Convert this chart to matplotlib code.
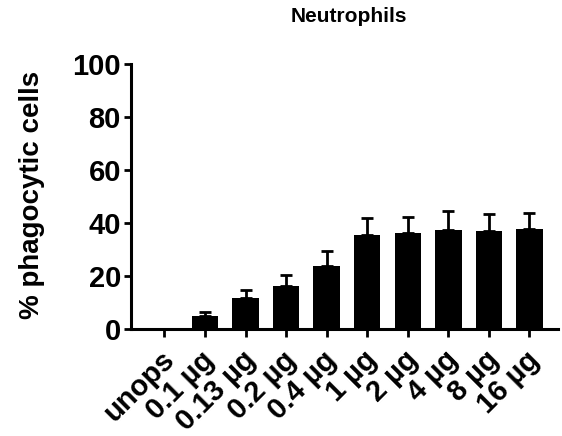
import matplotlib
matplotlib.use("Agg")
import matplotlib.pyplot as plt

categories = ["unops", "0.1 µg", "0.13 µg", "0.2 µg", "0.4 µg", "1 µg", "2 µg", "4 µg", "8 µg", "16 µg"]
means = [0, 4.7, 11.5, 16.3, 23.8, 35.4, 36.1, 37.3, 36.8, 37.6]
err_upper = [0, 1.7, 3.1, 3.9, 5.6, 6.6, 6.3, 7.2, 6.5, 6.3]
yticks = [0, 20, 40, 60, 80, 100]

plt.rcParams['font.family'] = ['Liberation Sans', 'DejaVu Sans']
fig = plt.figure(figsize=(5.62, 4.36), dpi=100)
ax = fig.add_axes([0.2326, 0.246, 0.760, 0.6065])

x = list(range(len(categories)))
ax.bar(x, means, width=0.65, color='black', zorder=2)
ax.errorbar(x, means, yerr=[[0]*len(means), err_upper], fmt='none', ecolor='black',
            elinewidth=2.0, capsize=4.5, capthick=2.0, zorder=1)

ax.set_ylim(0, 100)
ax.set_xlim(-0.83, 9.7)
ax.set_yticks(yticks)
ax.set_yticklabels([str(v) for v in yticks], fontsize=21, fontweight='bold')
ax.set_xticks(x)
ax.set_xticklabels([])
for i, cat in enumerate(categories):
    ax.annotate(cat, xy=(i, 0), xycoords=('data', 'axes fraction'),
                xytext=(4, -19.5), textcoords='offset points',
                rotation=45, ha='right', va='center', rotation_mode='anchor',
                fontsize=21, fontweight='bold', annotation_clip=False)
for s in ['top', 'right']:
    ax.spines[s].set_visible(False)
for s in ['left', 'bottom']:
    ax.spines[s].set_linewidth(2.2)
ax.tick_params(axis='both', width=2.0, length=5, pad=2)
ax.tick_params(axis='x', length=6)

ax.set_ylabel("% phagocytic cells", fontsize=20, fontweight='bold')
ax.yaxis.set_label_coords((45 - 130.7) / (0.760 * 562), (328.7 - 195) / 264.4)
fig.text(349/562, 1 - 17/436, "Neutrophils", ha='center', va='center',
         fontsize=15, fontweight='bold')

fig.savefig("out.png", dpi=100)
